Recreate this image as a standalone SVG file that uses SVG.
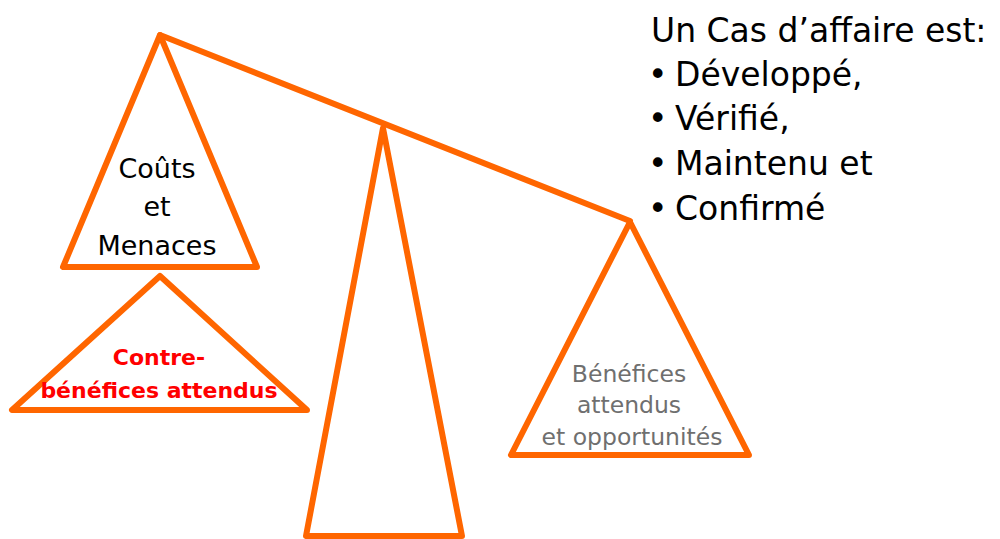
<svg xmlns="http://www.w3.org/2000/svg" width="1000" height="539" viewBox="0 0 1000 539">
<style>
.tri{fill:#fff;stroke:#FF6600;stroke-width:6;stroke-linejoin:round;stroke-linecap:round}
.beam{fill:none;stroke:#FF6600;stroke-width:6;stroke-linecap:round}
text{font-family:"DejaVu Sans",sans-serif}
.lbl{font-size:27px;fill:#000;text-anchor:middle}
.red{font-size:22px;fill:#FF0000;font-weight:bold;text-anchor:middle}
.gray{font-size:23.5px;fill:#6F6F6F;text-anchor:middle}
.head{font-size:33px;fill:#000}
</style>
<rect width="1000" height="539" fill="#fff"/>
<g id="connectors">
<line class="beam" x1="160" y1="35" x2="630" y2="221"/>
</g>
<g id="costs">
<polygon class="tri" points="160,35 63,267 257,267"/>
<text class="lbl" x="157" y="178">Coûts</text>
<text class="lbl" x="157" y="216">et</text>
<text class="lbl" x="157" y="255">Menaces</text>
</g>
<g id="contre">
<polygon class="tri" points="160,276 12,410 307,410"/>
<text class="red" x="159" y="365">Contre-</text>
<text class="red" x="159" y="398">bénéfices attendus</text>
</g>
<g id="fulcrum">
<polygon class="tri" points="383,128 306,536 462,536"/>
</g>
<g id="benefits">
<polygon class="tri" points="630,222 511,455 749,455"/>
<text class="gray" x="629" y="382">Bénéfices</text>
<text class="gray" x="629" y="413">attendus</text>
<text class="gray" x="632" y="445">et opportunités</text>
</g>
<g id="heading">
<text class="head" x="651" y="42">Un Cas d’affaire est:</text>
<text class="head" x="648" y="86">•</text><text class="head" x="675" y="86">Développé,</text>
<text class="head" x="648" y="130">•</text><text class="head" x="675" y="130">Vérifié,</text>
<text class="head" x="648" y="175">•</text><text class="head" x="675" y="175">Maintenu et</text>
<text class="head" x="648" y="220">•</text><text class="head" x="675" y="220">Confirmé</text>
</g>
</svg>
